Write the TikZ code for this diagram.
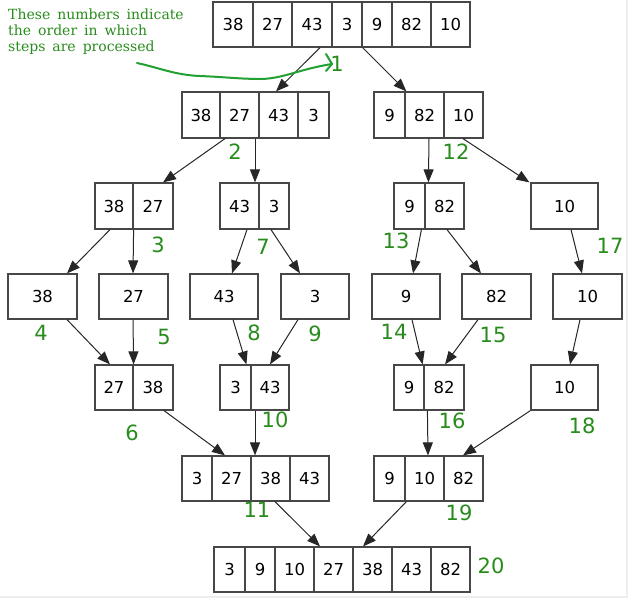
\documentclass[tikz,border=0pt]{standalone}
\usepackage{fontspec}
\newfontfamily\dvs{DejaVu Sans}
\newfontfamily\dvserif{DejaVu Serif}
\newcommand\mynotefont{\dvserif\fontsize{14}{15.8}\selectfont\spaceskip=0.5em\relax}
\usetikzlibrary{arrows.meta}
\definecolor{lblgreen}{RGB}{40,140,28}
\definecolor{curvegreen}{RGB}{34,160,50}
\tikzset{
  cell/.style={draw=black!72, line width=1.2pt, minimum height=45, inner sep=0pt,
    font=\dvs\fontsize{16.5}{18}\selectfont, anchor=center},
  arr/.style={draw=black!85, line width=1pt, -{Triangle[length=13pt,width=10pt]}},
  lbl/.style={text=lblgreen, inner sep=0pt, font=\dvs\fontsize{21}{24}\selectfont}
}
\begin{document}
\begin{tikzpicture}[x=1pt,y=-1pt]
\useasboundingbox (0,0) rectangle (628,598);
\draw[black!7, line width=1.5pt] (627,0) -- (627,597) -- (0,597);
% row 0
\node[cell, minimum width=40] (a1) at (233,24.5) {38};
\node[cell, minimum width=39] (a2) at (272.5,24.5) {27};
\node[cell, minimum width=40] (a3) at (312,24.5) {43};
\node[cell, minimum width=30] (a4) at (347,24.5) {3};
\node[cell, minimum width=30] (a5) at (377,24.5) {9};
\node[cell, minimum width=39] (a6) at (411.5,24.5) {82};
\node[cell, minimum width=39] (a7) at (450.5,24.5) {10};
% row 1
\node[cell, minimum width=38, minimum height=46] (b1) at (201,115) {38};
\node[cell, minimum width=39, minimum height=46] (b2) at (239.5,115) {27};
\node[cell, minimum width=39, minimum height=46] (b3) at (278.5,115) {43};
\node[cell, minimum width=31, minimum height=46] (b4) at (313.5,115) {3};
\node[cell, minimum width=31, minimum height=46] (b5) at (389.5,115) {9};
\node[cell, minimum width=39, minimum height=46] (b6) at (424.5,115) {82};
\node[cell, minimum width=39, minimum height=46] (b7) at (463.5,115) {10};
% row 2
\node[cell, minimum width=38, minimum height=46] (c1) at (114,206) {38};
\node[cell, minimum width=40, minimum height=46] (c2) at (153,206) {27};
\node[cell, minimum width=39, minimum height=46] (c3) at (239.5,206) {43};
\node[cell, minimum width=30, minimum height=46] (c4) at (274,206) {3};
\node[cell, minimum width=31, minimum height=46] (c5) at (409.5,206) {9};
\node[cell, minimum width=39, minimum height=46] (c6) at (444.5,206) {82};
\node[cell, minimum width=67, minimum height=46] (c7) at (564.5,206) {10};
% row 3
\node[cell, minimum width=69] (d1) at (42.5,296.5) {38};
\node[cell, minimum width=69] (d2) at (133.5,296.5) {27};
\node[cell, minimum width=68] (d3) at (224,296.5) {43};
\node[cell, minimum width=68] (d4) at (315,296.5) {3};
\node[cell, minimum width=68] (d5) at (406,296.5) {9};
\node[cell, minimum width=69] (d6) at (496.5,296.5) {82};
\node[cell, minimum width=69] (d7) at (587.5,296.5) {10};
% row 4
\node[cell, minimum width=38] (e1) at (114,387.5) {27};
\node[cell, minimum width=40] (e2) at (153,387.5) {38};
\node[cell, minimum width=31] (e3) at (235.5,387.5) {3};
\node[cell, minimum width=38] (e4) at (270,387.5) {43};
\node[cell, minimum width=30] (e5) at (409,387.5) {9};
\node[cell, minimum width=40] (e6) at (444,387.5) {82};
\node[cell, minimum width=67] (e7) at (564.5,387.5) {10};
% row 5
\node[cell, minimum width=30] (f1) at (197,478.5) {3};
\node[cell, minimum width=39] (f2) at (231.5,478.5) {27};
\node[cell, minimum width=39] (f3) at (270.5,478.5) {38};
\node[cell, minimum width=39] (f4) at (309.5,478.5) {43};
\node[cell, minimum width=31] (f5) at (389.5,478.5) {9};
\node[cell, minimum width=39] (f6) at (424.5,478.5) {10};
\node[cell, minimum width=39] (f7) at (463.5,478.5) {82};
% row 6
\node[cell, minimum width=31] (g1) at (229.5,569.5) {3};
\node[cell, minimum width=30] (g2) at (260,569.5) {9};
\node[cell, minimum width=39] (g3) at (294.5,569.5) {10};
\node[cell, minimum width=39] (g4) at (333.5,569.5) {27};
\node[cell, minimum width=39] (g5) at (372.5,569.5) {38};
\node[cell, minimum width=39] (g6) at (411.5,569.5) {43};
\node[cell, minimum width=39] (g7) at (450.5,569.5) {82};
% arrows
\draw[arr] ([xshift=8]a3.south) -- ([xshift=-2.5]b3.north);
\draw[arr] (a4.south east) -- ([xshift=2]b6.north west);
\draw[arr] ([xshift=-14.5]b2.south) -- ([xshift=10]c2.north);
\draw[arr] ([xshift=15.5]b2.south) -- ([xshift=15.5]c3.north);
\draw[arr] ([xshift=4.5]b6.south) -- ([xshift=4]c6.north west);
\draw[arr] ([xshift=-0.5]b7.south) -- ([xshift=-1]c7.north west);
\draw[arr] ([xshift=-4]c1.south) -- ([xshift=24.5]d1.north);
\draw[arr] (c1.south east) -- ([xshift=-0.5]d2.north);
\draw[arr] ([xshift=7.5]c3.south) -- ([xshift=8]d3.north);
\draw[arr] ([xshift=-3]c4.south) -- ([xshift=-15]d4.north);
\draw[arr] ([xshift=-3]c6.south west) -- ([xshift=7]d5.north);
\draw[arr] ([xshift=2.5]c6.south) -- ([xshift=-15.5]d6.north);
\draw[arr] ([xshift=6.5]c7.south) -- ([xshift=-5.5]d7.north);
\draw[arr] ([xshift=24.5]d1.south) -- ([xshift=-4]e1.north);
\draw[arr] ([xshift=-0.5]d2.south) -- (e1.north east);
\draw[arr] ([xshift=9]d3.south) -- ([xshift=-4]e4.north west);
\draw[arr] ([xshift=-17]d4.south) -- (e4.north);
\draw[arr] ([xshift=6]d5.south) -- ([xshift=-2]e5.north east);
\draw[arr] ([xshift=-18.5]d6.south) -- ([xshift=1]e6.north);
\draw[arr] ([xshift=-7.5]d7.south) -- ([xshift=5.5]e7.north);
\draw[arr] ([xshift=11]e2.south) -- ([xshift=-6.5]f2.north);
\draw[arr] ([xshift=-15]e4.south) -- ([xshift=-15.5]f3.north);
\draw[arr] ([xshift=4]e6.south west) -- ([xshift=3.5]f6.north);
\draw[arr] (e7.south west) -- ([xshift=-0.5]f7.north);
\draw[arr] ([xshift=4.5]f3.south) -- ([xshift=-13.5]g4.north);
\draw[arr] ([xshift=2]f6.south west) -- ([xshift=-9.5]g5.north);
% step labels
\node[lbl] (l1) at (337,64) {1};
\node[lbl] (l2) at (235,152) {2};
\node[lbl] (l3) at (158,245) {3};
\node[lbl] (l4) at (41,333) {4};
\node[lbl] (l5) at (164,337) {5};
\node[lbl] (l6) at (132,433) {6};
\node[lbl] (l7) at (263,247) {7};
\node[lbl] (l8) at (254,333) {8};
\node[lbl] (l9) at (315,334) {9};
\node[lbl] (l10) at (275,420) {10};
\node[lbl] (l11) at (257,510) {11};
\node[lbl] (l12) at (456,152) {12};
\node[lbl] (l13) at (396,241) {13};
\node[lbl] (l14) at (394,332) {14};
\node[lbl] (l15) at (493,335) {15};
\node[lbl] (l16) at (452,421) {16};
\node[lbl] (l17) at (610,246) {17};
\node[lbl] (l18) at (582,426) {18};
\node[lbl] (l19) at (459,513) {19};
\node[lbl] (l20) at (491,566) {20};
% annotation
\node[anchor=north west, inner sep=0pt, align=left, text=lblgreen,
  font=\mynotefont] (note) at (8,9)
  {These numbers indicate\\the order in which\\steps are processed};
\coordinate (cs) at (137,63);
\coordinate (ce) at (332,64);
\draw[curvegreen, line width=2pt, line cap=round, line join=round]
  (cs) .. controls (160,68) and (175,75) .. (200,76)
  .. controls (225,77) and (240,79) .. (262,79)
  .. controls (285,78) and (300,69) .. (ce);
\draw[curvegreen, line width=2pt, line cap=round, line join=round]
  ([xshift=-6,yshift=-7]ce) -- (ce) -- ([xshift=-6,yshift=10]ce);
\end{tikzpicture}
\end{document}
